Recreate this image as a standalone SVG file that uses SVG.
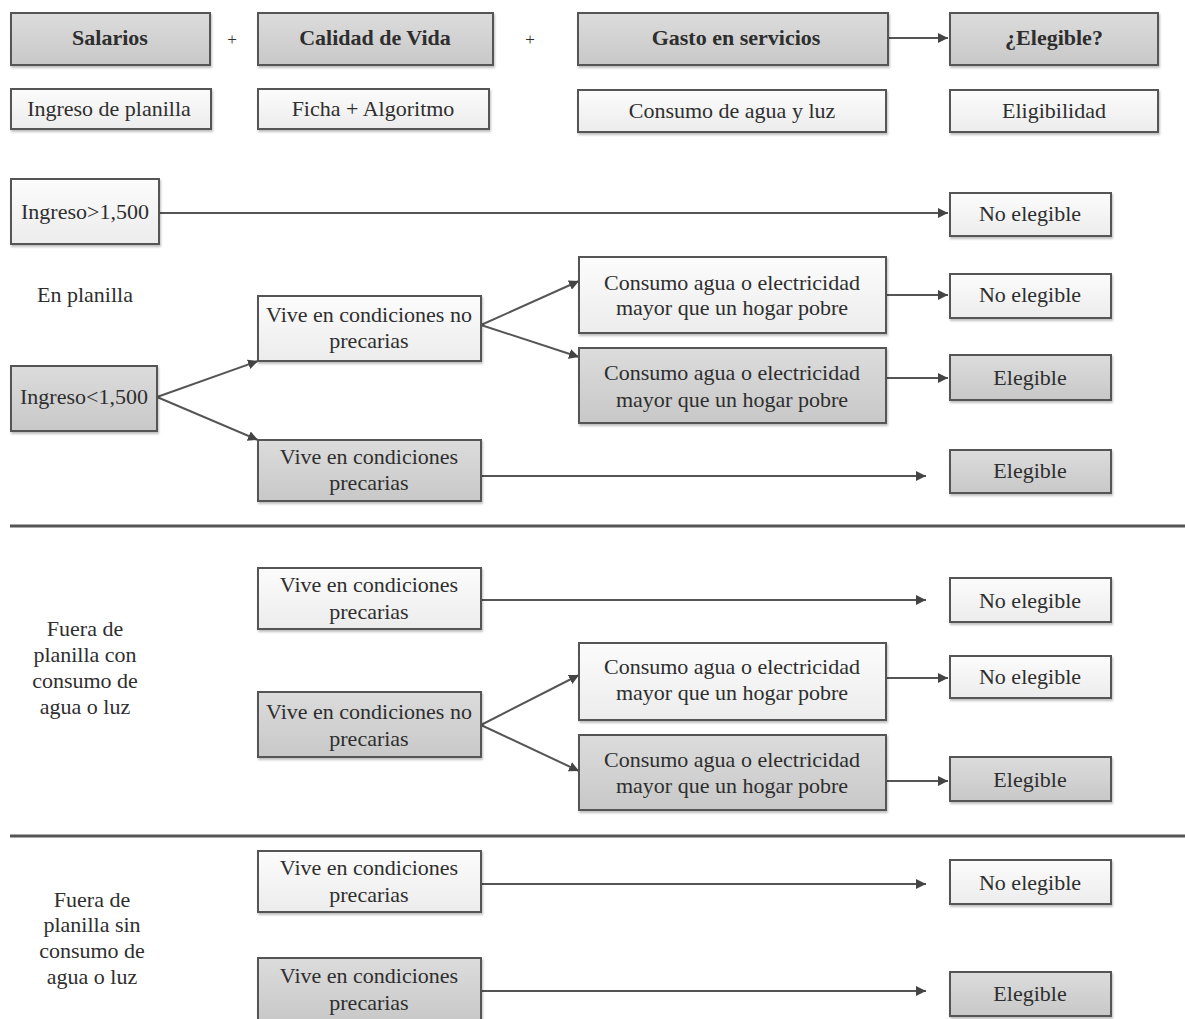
<svg xmlns="http://www.w3.org/2000/svg" width="1185" height="1019" viewBox="0 0 1185 1019">
<style>
text{font-family:"Liberation Serif","Times New Roman",serif;font-size:22px;fill:#2e2e2e;text-anchor:middle}
.b{font-weight:bold}
.p{font-size:17px}
.g{fill:url(#gg);stroke:#555;stroke-width:2;filter:url(#sh)}
.w{fill:url(#gw);stroke:#555;stroke-width:2;filter:url(#sh)}
.c{stroke:#555;stroke-width:2;fill:none;marker-end:url(#ah)}
.d{stroke:#555;stroke-width:3;fill:none}
</style>
<defs>
<linearGradient id="gg" x1="0" y1="0" x2="0" y2="1"><stop offset="0" stop-color="#dcdcdc"/><stop offset="1" stop-color="#c8c8c8"/></linearGradient>
<linearGradient id="gw" x1="0" y1="0" x2="0" y2="1"><stop offset="0" stop-color="#fcfcfc"/><stop offset="1" stop-color="#ececec"/></linearGradient>
<filter id="sh" x="-5%" y="-10%" width="110%" height="125%"><feDropShadow dx="1" dy="2" stdDeviation="1.2" flood-color="#000" flood-opacity="0.25"/></filter>
<marker id="ah" viewBox="0 0 10 10" refX="10" refY="5" markerWidth="5" markerHeight="5" orient="auto"><path d="M0,0 L10,5 L0,10 z" fill="#444"/></marker>
</defs>

<g id="connectors">
<path class="c" d="M888,38 H948"/>
<path class="c" d="M159,213 H948"/>
<path class="c" d="M157,397 L258,361"/>
<path class="c" d="M157,397 L258,440"/>
<path class="c" d="M481,325 L579,281"/>
<path class="c" d="M481,325 L579,357"/>
<path class="c" d="M886,295 H948"/>
<path class="c" d="M886,378 H948"/>
<path class="c" d="M481,476 H926"/>
<path class="c" d="M481,600 H926"/>
<path class="c" d="M481,725 L579,675"/>
<path class="c" d="M481,725 L579,771"/>
<path class="c" d="M886,678 H948"/>
<path class="c" d="M886,781 H948"/>
<path class="c" d="M481,884 H926"/>
<path class="c" d="M481,991 H926"/>
<path class="d" d="M10,526 H1185"/>
<path class="d" d="M10,836 H1185"/>
</g>

<g id="salarios"><rect class="g" x="11" y="13" width="199" height="52"/><text class="b" x="110" y="45">Salarios</text></g>
<g id="plus1"><text class="p" x="232" y="45">+</text></g>
<g id="calidad"><rect class="g" x="258" y="13" width="235" height="52"/><text class="b" x="375" y="45">Calidad de Vida</text></g>
<g id="plus2"><text class="p" x="530" y="45">+</text></g>
<g id="gasto"><rect class="g" x="578" y="13" width="310" height="52"/><text class="b" x="736" y="45">Gasto en servicios</text></g>
<g id="elegible-q"><rect class="g" x="950" y="13" width="208" height="52"/><text class="b" x="1054" y="45">¿Elegible?</text></g>

<g id="ingreso-planilla"><rect class="w" x="11" y="89" width="200" height="40"/><text x="109" y="116">Ingreso de planilla</text></g>
<g id="ficha"><rect class="w" x="258" y="89" width="231" height="40"/><text x="373" y="116">Ficha + Algoritmo</text></g>
<g id="consumo-agua-luz"><rect class="w" x="578" y="90" width="308" height="42"/><text x="732" y="118">Consumo de agua y luz</text></g>
<g id="eligibilidad"><rect class="w" x="950" y="90" width="208" height="42"/><text x="1054" y="118">Eligibilidad</text></g>

<g id="ingreso-mayor"><rect class="w" x="11" y="179" width="148" height="65"/><text x="85" y="219">Ingreso&gt;1,500</text></g>
<g id="ne1"><rect class="w" x="950" y="193" width="161" height="43"/><text x="1030" y="221">No elegible</text></g>

<g id="en-planilla"><text x="85" y="302">En planilla</text></g>

<g id="vive-np1"><rect class="w" x="258" y="296" width="223" height="65"/><text x="369" y="322">Vive en condiciones no</text><text x="369" y="348">precarias</text></g>
<g id="ingreso-menor"><rect class="g" x="11" y="366" width="146" height="65"/><text x="84" y="404">Ingreso&lt;1,500</text></g>
<g id="vive-p1"><rect class="g" x="258" y="440" width="223" height="61"/><text x="369" y="464">Vive en condiciones</text><text x="369" y="490">precarias</text></g>

<g id="consumo-w1"><rect class="w" x="579" y="257" width="307" height="76"/><text x="732" y="290">Consumo agua o electricidad</text><text x="732" y="315">mayor que un hogar pobre</text></g>
<g id="consumo-g1"><rect class="g" x="579" y="348" width="307" height="75"/><text x="732" y="380">Consumo agua o electricidad</text><text x="732" y="407">mayor que un hogar pobre</text></g>
<g id="ne2"><rect class="w" x="950" y="274" width="161" height="44"/><text x="1030" y="302">No elegible</text></g>
<g id="e1"><rect class="g" x="950" y="355" width="161" height="45"/><text x="1030" y="385">Elegible</text></g>
<g id="e2"><rect class="g" x="950" y="450" width="161" height="43"/><text x="1030" y="478">Elegible</text></g>

<g id="fuera-con"><text x="85" y="636">Fuera de</text><text x="85" y="662">planilla con</text><text x="85" y="688">consumo de</text><text x="85" y="714">agua o luz</text></g>
<g id="vive-p2"><rect class="w" x="258" y="568" width="223" height="61"/><text x="369" y="592">Vive en condiciones</text><text x="369" y="619">precarias</text></g>
<g id="ne3"><rect class="w" x="950" y="578" width="161" height="44"/><text x="1030" y="608">No elegible</text></g>
<g id="vive-np2"><rect class="g" x="258" y="692" width="223" height="65"/><text x="369" y="719">Vive en condiciones no</text><text x="369" y="746">precarias</text></g>
<g id="consumo-w2"><rect class="w" x="579" y="643" width="307" height="77"/><text x="732" y="674">Consumo agua o electricidad</text><text x="732" y="700">mayor que un hogar pobre</text></g>
<g id="consumo-g2"><rect class="g" x="579" y="735" width="307" height="75"/><text x="732" y="767">Consumo agua o electricidad</text><text x="732" y="793">mayor que un hogar pobre</text></g>
<g id="ne4"><rect class="w" x="950" y="656" width="161" height="42"/><text x="1030" y="684">No elegible</text></g>
<g id="e3"><rect class="g" x="950" y="757" width="161" height="44"/><text x="1030" y="787">Elegible</text></g>

<g id="fuera-sin"><text x="92" y="907">Fuera de</text><text x="92" y="932">planilla sin</text><text x="92" y="958">consumo de</text><text x="92" y="984">agua o luz</text></g>
<g id="vive-p3"><rect class="w" x="258" y="851" width="223" height="61"/><text x="369" y="875">Vive en condiciones</text><text x="369" y="902">precarias</text></g>
<g id="ne5"><rect class="w" x="950" y="860" width="161" height="44"/><text x="1030" y="890">No elegible</text></g>
<g id="vive-p4"><rect class="g" x="258" y="958" width="223" height="64"/><text x="369" y="983">Vive en condiciones</text><text x="369" y="1010">precarias</text></g>
<g id="e4"><rect class="g" x="950" y="972" width="161" height="44"/><text x="1030" y="1001">Elegible</text></g>
</svg>
